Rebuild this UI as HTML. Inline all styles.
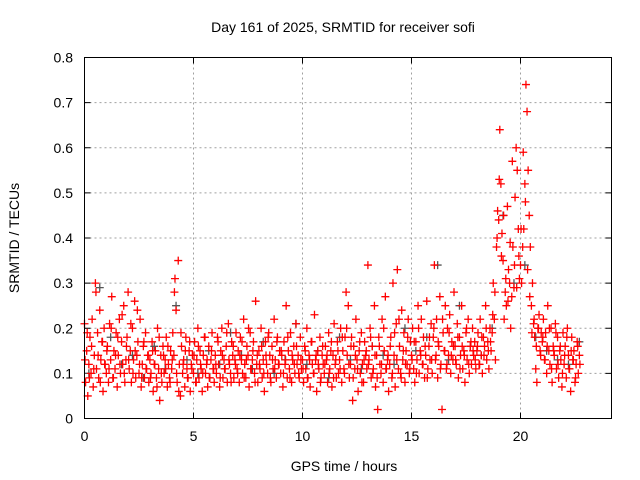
<!DOCTYPE html>
<html><head><meta charset="utf-8"><style>
body{margin:0;background:#fff;}
svg{display:block;font-family:"Liberation Sans",sans-serif;}
</style></head><body>
<svg id="chart" width="640" height="480">
<rect x="0" y="0" width="640" height="480" fill="#fff"/>
<text x="343" y="32" text-anchor="middle" font-size="14">Day 161 of 2025, SRMTID for receiver sofi</text>
<text x="344" y="471" text-anchor="middle" font-size="14">GPS time / hours</text>
<text transform="translate(19,238) rotate(-90)" text-anchor="middle" font-size="14">SRMTID / TECUs</text>
<g id="grid"></g>
<g id="ticks"></g>
<g id="marks"></g>
<rect x="84.5" y="57.5" width="527" height="361" fill="none" stroke="#000" stroke-width="1"/>
</svg>
<script>
const xTicks=[0,5,10,15,20];
const yTicks=[0,0.1,0.2,0.3,0.4,0.5,0.6,0.7,0.8];
const yTickLabels=["0","0.1","0.2","0.3","0.4","0.5","0.6","0.7","0.8"];
const redStart=0, redStep=0.05;
const redValues=[
.21,.08,.15,.05,.12,.18,.10,.22,.07,.14,.30,.11,.19,.09,.24,.13,.17,.06,.20,.12,
.10,.16,.08,.21,.13,.27,.09,.15,.11,.19,.07,.14,.22,.10,.17,.12,.25,.08,.13,.18,
.28,.11,.15,.08,.20,.13,.26,.09,.14,.17,.10,.22,.07,.12,.16,.09,.19,.11,.14,.08,
.13,.10,.17,.06,.12,.15,.09,.20,.11,.04,.14,.08,.16,.10,.13,.18,.07,.12,.09,.15,
.11,.19,.14,.31,.24,.08,.35,.12,.05,.16,.10,.13,.07,.18,.11,.09,.15,.06,.12,.14,
.10,.17,.08,.13,.20,.09,.15,.11,.06,.14,.18,.10,.12,.07,.16,.09,.13,.19,.11,.08,
.14,.10,.18,.12,.07,.15,.20,.09,.13,.11,.16,.08,.21,.12,.10,.17,.14,.09,.13,.19,
.11,.15,.08,.18,.13,.10,.22,.12,.09,.16,.14,.07,.19,.11,.13,.17,.10,.26,.12,.08,
.15,.11,.20,.09,.13,.06,.17,.12,.10,.19,.14,.08,.16,.11,.22,.13,.09,.18,.12,.15,
.10,.14,.07,.17,.12,.25,.09,.15,.11,.19,.08,.13,.16,.10,.21,.12,.14,.09,.18,.11,
.13,.08,.16,.11,.20,.09,.14,.07,.17,.12,.10,.23,.13,.06,.15,.11,.18,.09,.14,.12,
.10,.16,.13,.08,.19,.11,.15,.07,.14,.21,.12,.09,.17,.10,.13,.20,.08,.15,.11,.18,
.28,.14,.25,.09,.12,.18,.04,.16,.11,.22,.13,.06,.15,.10,.19,.12,.08,.17,.14,.11,
.34,.13,.20,.09,.16,.11,.25,.07,.14,.02,.18,.12,.10,.22,.08,.15,.27,.11,.13,.06,
.12,.18,.09,.30,.14,.07,.21,.33,.11,.16,.10,.24,.13,.19,.08,.15,.12,.22,.10,.17,
.14,.20,.11,.08,.17,.13,.25,.10,.15,.22,.12,.18,.09,.14,.26,.11,.16,.13,.21,.10,
.18,.34,.13,.22,.09,.16,.27,.12,.02,.19,.15,.25,.11,.20,.14,.23,.10,.17,.13,.28,
.16,.12,.21,.09,.18,.14,.25,.11,.15,.08,.19,.13,.22,.10,.16,.12,.20,.14,.17,.11,
.15,.19,.12,.22,.14,.10,.18,.16,.25,.13,.17,.11,.20,.15,.19,.30,.22,.13,.38,.46,
.44,.64,.52,.41,.35,.22,.28,.25,.47,.33,.30,.20,.27,.38,.29,.49,.60,.55,.42,.31,
.34,.30,.38,.42,.52,.74,.68,.55,.45,.38,.25,.30,.21,.18,.11,.08,.20,.23,.15,.19,
.17,.22,.13,.19,.10,.25,.15,.12,.20,.08,.16,.14,.21,.11,.18,.09,.15,.13,.07,.19,
.12,.16,.09,.20,.14,.11,.06,.18,.13,.15,.08,.12,.17,.10,.14];
const red2Start=0.025, red2Step=0.1;
const red2Values=[
.13,.19,.09,.16,.11,.28,.14,.08,.17,.12,
.15,.11,.20,.09,.14,.18,.12,.23,.10,.16,
.13,.21,.10,.15,.24,.12,.09,.17,.11,.14,
.09,.15,.12,.07,.18,.10,.14,.11,.16,.08,
.13,.28,.10,.06,.19,.12,.15,.09,.17,.11,
.14,.08,.16,.12,.10,.18,.13,.09,.15,.11,
.12,.17,.09,.14,.11,.19,.13,.08,.16,.12,
.10,.14,.17,.09,.13,.20,.11,.15,.08,.14,
.12,.16,.10,.14,.18,.09,.13,.11,.17,.12,
.15,.10,.13,.18,.09,.14,.12,.16,.10,.13,
.11,.15,.09,.13,.17,.10,.14,.12,.08,.16,
.12,.14,.10,.17,.09,.13,.15,.11,.18,.10,
.20,.12,.16,.09,.14,.11,.17,.08,.13,.15,
.12,.18,.10,.14,.09,.16,.12,.20,.11,.14,
.16,.10,.19,.13,.22,.09,.15,.12,.18,.11,
.13,.17,.10,.20,.14,.12,.16,.09,.18,.13,
.20,.14,.17,.11,.22,.15,.12,.19,.14,.16,
.13,.18,.11,.16,.14,.20,.12,.17,.15,.13,
.16,.12,.18,.14,.20,.15,.17,.23,.28,.40,
.53,.36,.45,.31,.26,.39,.57,.34,.29,.36,
.42,.59,.48,.33,.27,.19,.22,.16,.20,.14,
.18,.13,.16,.20,.11,.15,.19,.12,.16,.10,
.14,.18,.11,.15,.13,.09,.16,.12];
const greyStart=0.2, greyStep=0.5;
const greyValues=[.10,.29,.18,.12,.14,.09,.16,.11,.25,.13,.10,.15,.12,.19,.14,.11,.17,.10,.13,.21,.12,.15,.09,.18,.13,.11,.16,.14,.12,.20,.15,.18,.34,.13,.25,.16,.14,.20,.45,.30,.34,.18,.15,.13,.12,.17];
const X0=84.5,XS=21.8,Y0=418.5,YS=451.25;
const sx=v=>X0+v*XS, sy=v=>Y0-v*YS;
const NS="http://www.w3.org/2000/svg";
const g=document.getElementById('grid'),t=document.getElementById('ticks'),m=document.getElementById('marks');
function mk(tag,attrs,parent){const e=document.createElementNS(NS,tag);for(const k in attrs)e.setAttribute(k,attrs[k]);parent.appendChild(e);return e;}
xTicks.forEach((v,i)=>{
 const x=sx(v);
 if(i>0){const l=mk('line',{x1:x,y1:57.5,x2:x,y2:418.5,stroke:'#a0a0a0','stroke-dasharray':'2,3'},g);
 
 }
 const tk=mk('path',{d:`M${x} 418.5v-6M${x} 57.5v6`,stroke:'#000'},t);
 
 
 const tx=mk('text',{x:x,y:441,'text-anchor':'middle','font-size':14},t);tx.textContent=String(v);
 
 
});
yTicks.forEach((v,i)=>{
 const y=sy(v);
 if(i>0&&i<yTicks.length-1){const l=mk('line',{x1:84.5,y1:y,x2:611.5,y2:y,stroke:'#a0a0a0','stroke-dasharray':'2,3'},g);
 
 }
 const tk=mk('path',{d:`M84.5 ${y}h6M611.5 ${y}h-6`,stroke:'#000'},t);
 
 
 const tx=mk('text',{x:73,y:y+5,'text-anchor':'end','font-size':14},t);tx.textContent=yTickLabels[i];
 
 
});
function plus(x,y,c){const p=mk('path',{d:`M${x-4} ${y}h8M${x} ${y-4}v8`,stroke:c,'stroke-width':1.3},m);return p;}
greyValues.forEach((v,i)=>{const p=plus(sx(greyStart+i*greyStep),sy(v),'#555');
 
 });
redValues.forEach((v,i)=>{const p=plus(sx(redStart+i*redStep),sy(v),'#f00');
 
 });
red2Values.forEach((v,i)=>{const p=plus(sx(red2Start+i*red2Step),sy(v),'#f00');
 
 });
</script>
</body></html>
